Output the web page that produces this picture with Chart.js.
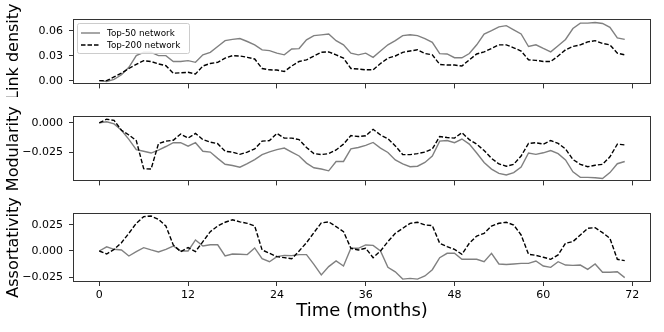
<!DOCTYPE html>
<html>
<head>
<meta charset="utf-8">
<title>Network measures over time</title>
<script src="https://cdn.jsdelivr.net/npm/chart.js@4.4.0/dist/chart.umd.min.js"></script>
<style>
    html, body { margin: 0; padding: 0; background: #fff; }
    #wrap { position: relative; width: 664px; height: 332px; }
    #wrap canvas { position: absolute; left: 0; }
</style>
</head>
<body>
<div id="wrap">
    <canvas id="density" width="664" height="97" style="top:0px"></canvas>
    <canvas id="modularity" width="664" height="97" style="top:97px"></canvas>
    <canvas id="assort" width="664" height="138" style="top:194px"></canvas>
</div>
<script>
// months 0..71
const months = [0, 1, 2, 3, 4, 5, 6, 7, 8, 9, 10, 11, 12, 13, 14, 15, 16, 17, 18, 19,
    20, 21, 22, 23, 24, 25, 26, 27, 28, 29, 30, 31, 32, 33, 34, 35, 36, 37, 38, 39,
    40, 41, 42, 43, 44, 45, 46, 47, 48, 49, 50, 51, 52, 53, 54, 55, 56, 57, 58, 59,
    60, 61, 62, 63, 64, 65, 66, 67, 68, 69, 70, 71];

const seriesNames = ['Top-50 network', 'Top-200 network'];

const density50 = [0.000, -0.001, 0.0015, 0.007, 0.016, 0.030, 0.034, 0.034, 0.030, 0.030,
    0.023, 0.023, 0.024, 0.022, 0.031, 0.034, 0.041, 0.048, 0.0495, 0.0505,
    0.047, 0.043, 0.037, 0.036, 0.033, 0.031, 0.038, 0.0385, 0.049, 0.054,
    0.055, 0.056, 0.048, 0.043, 0.033, 0.031, 0.033, 0.028, 0.0355, 0.043,
    0.048, 0.054, 0.055, 0.054, 0.0505, 0.046, 0.0325, 0.032, 0.0275, 0.0275,
    0.0325, 0.043, 0.056, 0.060, 0.0645, 0.066, 0.061, 0.056, 0.041, 0.043,
    0.0386, 0.0345, 0.042, 0.0495, 0.0626, 0.069, 0.069, 0.0698, 0.0686, 0.064,
    0.0514, 0.0495];
const density200 = [0.000, 0.000, 0.0045, 0.009, 0.0146, 0.0195, 0.024, 0.023, 0.020, 0.018,
    0.009, 0.0094, 0.010, 0.008, 0.0176, 0.0206, 0.022, 0.027, 0.030, 0.0296,
    0.028, 0.026, 0.0146, 0.013, 0.0127, 0.011, 0.0176, 0.023, 0.025, 0.0296,
    0.034, 0.0345, 0.031, 0.027, 0.0146, 0.014, 0.013, 0.013, 0.0206, 0.027,
    0.0296, 0.034, 0.0356, 0.037, 0.0326, 0.031, 0.0195, 0.0187, 0.0187, 0.0176,
    0.025, 0.032, 0.0345, 0.0386, 0.043, 0.043, 0.0394, 0.0356, 0.025, 0.0244,
    0.023, 0.023, 0.0296, 0.037, 0.041, 0.043, 0.0465, 0.048, 0.0446, 0.043,
    0.033, 0.031];

const modularity50 = [0.000, 0.0008, -0.001, -0.0063, -0.014, -0.0226, -0.024, -0.0255, -0.023, -0.020,
    -0.0168, -0.0168, -0.0197, -0.0168, -0.024, -0.0247, -0.030, -0.035, -0.036, -0.0374,
    -0.0345, -0.031, -0.0268, -0.0245, -0.0226, -0.0213, -0.0247, -0.028, -0.034, -0.0379,
    -0.039, -0.0405, -0.0326, -0.0326, -0.022, -0.0208, -0.019, -0.0166, -0.0213, -0.025,
    -0.0313, -0.0347, -0.037, -0.0366, -0.0334, -0.028, -0.0155, -0.015, -0.0168, -0.0137,
    -0.018, -0.0255, -0.0334, -0.039, -0.0426, -0.044, -0.042, -0.0374, -0.0255, -0.0266,
    -0.0253, -0.0234, -0.026, -0.0313, -0.0413, -0.046, -0.046, -0.0463, -0.047, -0.042,
    -0.0345, -0.0326];
const modularity200 = [0.000, 0.003, 0.002, -0.0063, -0.0103, -0.015, -0.0387, -0.039, -0.0176, -0.0155,
    -0.0147, -0.0095, -0.0129, -0.009, -0.0142, -0.0163, -0.0176, -0.024, -0.0247, -0.0266,
    -0.0247, -0.022, -0.0155, -0.015, -0.009, -0.0129, -0.0129, -0.0142, -0.0208, -0.026,
    -0.0268, -0.026, -0.0229, -0.018, -0.0108, -0.0116, -0.011, -0.0055, -0.0103, -0.0134,
    -0.0195, -0.0268, -0.0268, -0.026, -0.0247, -0.022, -0.0116, -0.0124, -0.0129, -0.0084,
    -0.0142, -0.018, -0.0234, -0.030, -0.0347, -0.0366, -0.035, -0.028, -0.0174, -0.0168,
    -0.018, -0.015, -0.0174, -0.022, -0.031, -0.035, -0.037, -0.0358, -0.035, -0.0287,
    -0.018, -0.0187];

const assort50 = [0.000, 0.004, 0.0016, 0.001, -0.0048, -0.0006, 0.0032, 0.001, -0.001, 0.0016,
    0.0048, 0.000, 0.000, 0.0106, 0.0048, 0.006, 0.006, -0.0048, -0.0029, -0.0032,
    -0.0035, 0.0029, -0.0074, -0.0103, -0.0054, -0.0042, -0.0045, -0.0035, -0.0035, -0.0128,
    -0.023, -0.015, -0.0096, -0.0144, 0.0026, 0.0026, 0.0058, 0.0054, 0.000, -0.0157,
    -0.020, -0.027, -0.0263, -0.027, -0.024, -0.018, -0.0064, -0.0022, -0.0022, -0.008,
    -0.008, -0.008, -0.0103, -0.0022, -0.0125, -0.013, -0.0125, -0.0119, -0.0119, -0.0096,
    -0.0144, -0.0157, -0.0103, -0.0135, -0.0138, -0.0135, -0.0176, -0.0125, -0.0205, -0.0205,
    -0.020, -0.0256];
const assort200 = [0.000, -0.0029, 0.0016, 0.008, 0.017, 0.0266, 0.033, 0.0336, 0.0304, 0.024,
    0.0058, -0.0006, 0.0032, -0.0006, 0.009, 0.0186, 0.024, 0.0276, 0.030, 0.028,
    0.0266, 0.024, 0.001, -0.0022, -0.0054, -0.0064, -0.0075, 0.000, 0.008, 0.0176,
    0.027, 0.028, 0.0234, 0.0186, 0.0026, 0.001, 0.0026, -0.0064, 0.000, 0.009,
    0.017, 0.0218, 0.0266, 0.0276, 0.025, 0.0244, 0.0074, 0.0042, 0.0016, -0.0032,
    0.0074, 0.0144, 0.017, 0.024, 0.0266, 0.0276, 0.025, 0.0154, -0.0032, -0.0042,
    -0.006, -0.008, -0.0038, 0.0074, 0.009, 0.0154, 0.0218, 0.0224, 0.0176, 0.0122,
    -0.008, -0.0093];

// tick positions and labels
const xTicks = [0, 12, 24, 36, 48, 60, 72];
const xTickLabels = ['0', '12', '24', '36', '48', '60', '72'];
const densityTicks = [0, 0.03, 0.06];
const densityLabels = ['0.00', '0.03', '0.06'];
const modularityTicks = [-0.025, 0];
const modularityLabels = ['\u22120.025', '0.000'];
const assortTicks = [-0.025, 0, 0.025];
const assortLabels = ['\u22120.025', '0.000', '0.025'];

const FONT = "'DejaVu Sans', sans-serif";
const AXIS_COLOR = '#333';

// box round the plot area, like matplotlib spines
const framePlugin = {
    id: 'frame',
    afterDatasetsDraw(chart) {
        const a = chart.chartArea;
        const ctx = chart.ctx;
        ctx.save();
        ctx.strokeStyle = AXIS_COLOR;
        ctx.lineWidth = 1;
        ctx.strokeRect(Math.round(a.left) + 0.5, Math.round(a.top) + 0.5,
            Math.round(a.right - a.left) - 1, Math.round(a.bottom - a.top) - 1);
        ctx.restore();
    }
};

// legend box in the upper left of the first panel
const legendPlugin = {
    id: 'boxLegend',
    afterDraw(chart) {
        if (!chart.options.plugins.boxLegend || !chart.options.plugins.boxLegend.show) return;
        const ctx = chart.ctx;
        const x0 = 77, y0 = 23.5, w = 112, h = 30;
        ctx.save();
        ctx.fillStyle = 'rgba(255,255,255,0.85)';
        ctx.strokeStyle = '#cccccc';
        ctx.lineWidth = 1;
        ctx.beginPath();
        ctx.roundRect(x0 + 0.5, y0, w, h, 2);
        ctx.fill();
        ctx.stroke();
        const rows = [
            { y: 33, color: '#808080', dash: [] },
            { y: 45, color: '#000000', dash: [4.5, 2] }
        ];
        rows.forEach((r, i) => {
            ctx.beginPath();
            ctx.strokeStyle = r.color;
            ctx.lineWidth = 1.4;
            ctx.setLineDash(r.dash);
            ctx.moveTo(81, r.y);
            ctx.lineTo(100, r.y);
            ctx.stroke();
            ctx.setLineDash([]);
            ctx.fillStyle = '#000';
            ctx.font = '8.8px ' + FONT;
            ctx.textBaseline = 'middle';
            ctx.fillText(seriesNames[i], 107, r.y + 0.5);
        });
        ctx.restore();
    }
};

function points(ys) {
    return months.map((m, i) => ({ x: m, y: ys[i] }));
}

function makePanel(id, s50, s200, yMin, yMax, yTicks, yLabels, yTitle, bottom, withLegend) {
    const ctx = document.getElementById(id).getContext('2d');
    return new Chart(ctx, {
        type: 'line',
        data: {
            datasets: [{
                label: seriesNames[0],
                data: points(s50),
                borderColor: '#808080',
                borderWidth: 1.4,
                pointRadius: 0,
                fill: false,
                tension: 0,
                order: 2
            }, {
                label: seriesNames[1],
                data: points(s200),
                borderColor: '#000000',
                borderWidth: 1.4,
                borderDash: [4.5, 2],
                pointRadius: 0,
                fill: false,
                tension: 0,
                order: 1
            }]
        },
        options: {
            responsive: false,
            animation: false,
            events: [],
            layout: { padding: { top: 19, right: 13, left: 0, bottom: 0 } },
            plugins: {
                legend: { display: false },
                tooltip: { enabled: false },
                boxLegend: { show: withLegend }
            },
            scales: {
                x: {
                    type: 'linear',
                    min: -3.55,
                    max: 74.55,
                    afterBuildTicks: s => { s.ticks = xTicks.map(v => ({ value: v })); },
                    afterFit: s => { s.height = bottom ? 50 : 8; },
                    grid: { drawOnChartArea: false, drawTicks: true, tickLength: 4, color: AXIS_COLOR },
                    border: { display: false },
                    ticks: {
                        display: bottom,
                        padding: 3,
                        maxRotation: 0,
                        autoSkip: false,
                        color: '#000',
                        font: { family: FONT, size: 11 },
                        callback: (v, i) => xTickLabels[i]
                    },
                    title: {
                        display: bottom,
                        text: 'Time (months)',
                        color: '#000',
                        font: { family: FONT, size: 18 },
                        padding: { top: 0, bottom: 10 }
                    }
                },
                y: {
                    min: yMin,
                    max: yMax,
                    afterBuildTicks: s => { s.ticks = yTicks.map(v => ({ value: v })); },
                    afterFit: s => { s.width = 73; },
                    grid: { drawOnChartArea: false, drawTicks: true, tickLength: 4, color: AXIS_COLOR },
                    border: { display: false },
                    ticks: {
                        padding: 6,
                        autoSkip: false,
                        color: '#000',
                        font: { family: FONT, size: 11 },
                        callback: (v, i) => yLabels[i]
                    },
                    title: {
                        display: true,
                        text: yTitle,
                        color: '#000',
                        font: { family: FONT, size: 16 },
                        padding: { top: 4, bottom: 0 }
                    }
                }
            }
        },
        plugins: [framePlugin, legendPlugin]
    });
}

makePanel('density', density50, density200, -0.0045, 0.0740,
    densityTicks, densityLabels, 'Link density', false, true);
makePanel('modularity', modularity50, modularity200, -0.0494, 0.0057,
    modularityTicks, modularityLabels, 'Modularity', false, false);
makePanel('assort', assort50, assort200, -0.0298, 0.0365,
    assortTicks, assortLabels, 'Assortativity', true, false);
</script>
</body>
</html>
